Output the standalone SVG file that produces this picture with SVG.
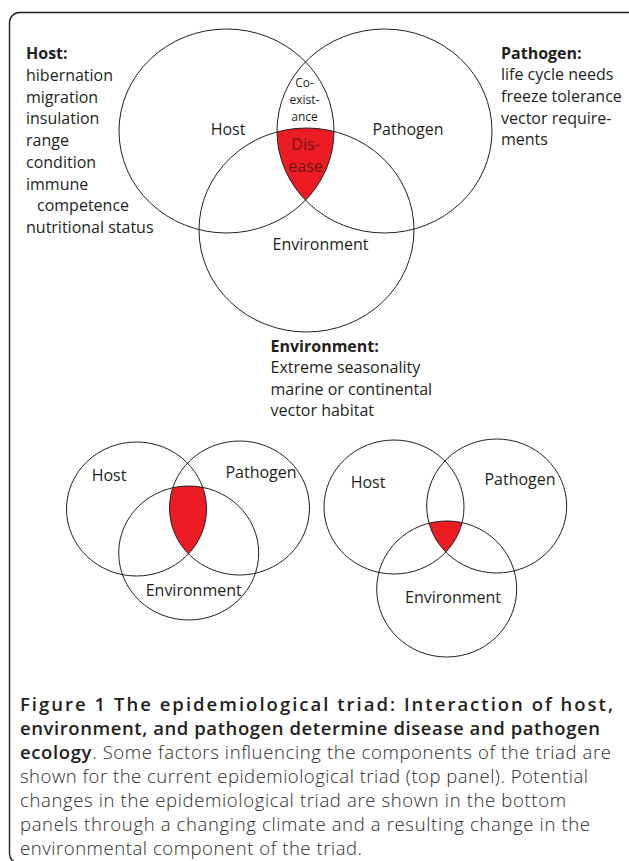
<svg xmlns="http://www.w3.org/2000/svg" width="629" height="861" viewBox="0 0 629 861">
<style>
  text { font-family: "Open Sans", "Noto Sans", sans-serif; fill: #231f20; }
  .lbl { font-size: 16px; }
  .lblc { font-size: 16px; text-anchor: middle; }
  .hd { font-size: 16px; font-weight: bold; }
  .sm { font-size: 12px; text-anchor: middle; }
  .dis { font-size: 16px; text-anchor: middle; fill: #6e1416; }
  .cap { font-size: 18.5px; font-weight: 300; fill: #2b2b2b; }
  .capb { font-size: 18.5px; font-weight: 600; fill: #231f20; }
  .ring { fill: none; stroke: #231f20; stroke-width: 1; }
  .red { fill: #ed1c24; }
  .frame { fill: none; stroke: #231f20; stroke-width: 1.4; }
</style>
<defs>
  <clipPath id="tH"><ellipse cx="226.5" cy="131" rx="107.5" ry="102"/></clipPath>
  <clipPath id="tP"><ellipse cx="384.5" cy="131" rx="107.5" ry="102"/></clipPath>
  <clipPath id="lH"><ellipse cx="136.5" cy="509" rx="70" ry="67"/></clipPath>
  <clipPath id="lP"><ellipse cx="239.5" cy="508" rx="70" ry="67"/></clipPath>
  <clipPath id="rH"><ellipse cx="394" cy="507" rx="70" ry="67"/></clipPath>
  <clipPath id="rP"><ellipse cx="496.7" cy="506" rx="70" ry="67"/></clipPath>
</defs>
<rect width="629" height="861" fill="#ffffff"/>
<rect class="frame" x="9.5" y="12.5" width="700" height="851" rx="10"/>

<!-- top triad -->
<g id="top-disease">
  <g clip-path="url(#tH)"><g clip-path="url(#tP)"><ellipse class="red" cx="306.5" cy="230" rx="107.5" ry="102"/></g></g>
</g>
<g id="top-host">
  <ellipse class="ring" cx="226.5" cy="131" rx="107.5" ry="102"/>
  <text class="lblc" x="228" y="134.5">Host</text>
</g>
<g id="top-pathogen">
  <ellipse class="ring" cx="384.5" cy="131" rx="107.5" ry="102"/>
  <text class="lblc" x="408" y="135">Pathogen</text>
</g>
<g id="top-environment">
  <ellipse class="ring" cx="306.5" cy="230" rx="107.5" ry="102"/>
  <text class="lblc" x="320.5" y="250">Environment</text>
</g>
<g id="top-coexistance">
  <text class="sm" x="304.5" y="86.5">Co-</text>
  <text class="sm" x="304.5" y="103.5">exist-</text>
  <text class="sm" x="304.5" y="120.5">ance</text>
</g>
<g id="top-disease-label">
  <text class="dis" x="305.5" y="150">Dis-</text>
  <text class="dis" x="305.5" y="171.5">ease</text>
</g>

<!-- factor lists -->
<g id="host-factors">
  <text class="hd" x="26" y="59">Host:</text>
  <text class="lbl" x="26" y="80.8">hibernation</text>
  <text class="lbl" x="26" y="102.5">migration</text>
  <text class="lbl" x="26" y="124.3">insulation</text>
  <text class="lbl" x="26" y="146">range</text>
  <text class="lbl" x="26" y="167.8">condition</text>
  <text class="lbl" x="26" y="189.5">immune</text>
  <text class="lbl" x="37" y="211.3">competence</text>
  <text class="lbl" x="26" y="233">nutritional status</text>
</g>
<g id="pathogen-factors">
  <text class="hd" x="501" y="58.5">Pathogen:</text>
  <text class="lbl" x="501" y="80.2">life cycle needs</text>
  <text class="lbl" x="501" y="101.9">freeze tolerance</text>
  <text class="lbl" x="501" y="123.6">vector require-</text>
  <text class="lbl" x="501" y="145.3">ments</text>
</g>
<g id="environment-factors">
  <text class="hd" x="270.5" y="351.7">Environment:</text>
  <text class="lbl" x="270.5" y="373">Extreme seasonality</text>
  <text class="lbl" x="270.5" y="394.5">marine or continental</text>
  <text class="lbl" x="270.5" y="416">vector habitat</text>
</g>

<!-- bottom left triad -->
<g id="left-disease">
  <g clip-path="url(#lH)"><g clip-path="url(#lP)"><ellipse class="red" cx="188.7" cy="553" rx="70" ry="67"/></g></g>
</g>
<g id="left-host">
  <ellipse class="ring" cx="136.5" cy="509" rx="70" ry="67"/>
  <text class="lblc" x="109" y="480.7">Host</text>
</g>
<g id="left-pathogen">
  <ellipse class="ring" cx="239.5" cy="508" rx="70" ry="67"/>
  <text class="lblc" x="261" y="477.5">Pathogen</text>
</g>
<g id="left-environment">
  <ellipse class="ring" cx="188.7" cy="553" rx="70" ry="67"/>
  <text class="lblc" x="193.7" y="596">Environment</text>
</g>

<!-- bottom right triad -->
<g id="right-disease">
  <g clip-path="url(#rH)"><g clip-path="url(#rP)"><ellipse class="red" cx="446.7" cy="589" rx="70" ry="68"/></g></g>
</g>
<g id="right-host">
  <ellipse class="ring" cx="394" cy="507" rx="70" ry="67"/>
  <text class="lblc" x="368" y="487.7">Host</text>
</g>
<g id="right-pathogen">
  <ellipse class="ring" cx="496.7" cy="506" rx="70" ry="67"/>
  <text class="lblc" x="520" y="485">Pathogen</text>
</g>
<g id="right-environment">
  <ellipse class="ring" cx="446.7" cy="589" rx="70" ry="68"/>
  <text class="lblc" x="453" y="602.7">Environment</text>
</g>

<!-- caption -->
<g id="caption">
  <text class="capb" x="20" y="711" textLength="593" lengthAdjust="spacing">Figure 1 The epidemiological triad: Interaction of host,</text>
  <text class="capb" x="20" y="735" textLength="580" lengthAdjust="spacing">environment, and pathogen determine disease and pathogen</text>
  <text class="cap" x="20" y="759" textLength="591" lengthAdjust="spacing"><tspan class="capb">ecology</tspan>. Some factors influencing the components of the triad are</text>
  <text class="cap" x="20" y="783" textLength="568" lengthAdjust="spacing">shown for the current epidemiological triad (top panel). Potential</text>
  <text class="cap" x="20" y="807" textLength="546" lengthAdjust="spacing">changes in the epidemiological triad are shown in the bottom</text>
  <text class="cap" x="20" y="831" textLength="570" lengthAdjust="spacing">panels through a changing climate and a resulting change in the</text>
  <text class="cap" x="20" y="855" textLength="342" lengthAdjust="spacing">environmental component of the triad.</text>
</g>
</svg>
